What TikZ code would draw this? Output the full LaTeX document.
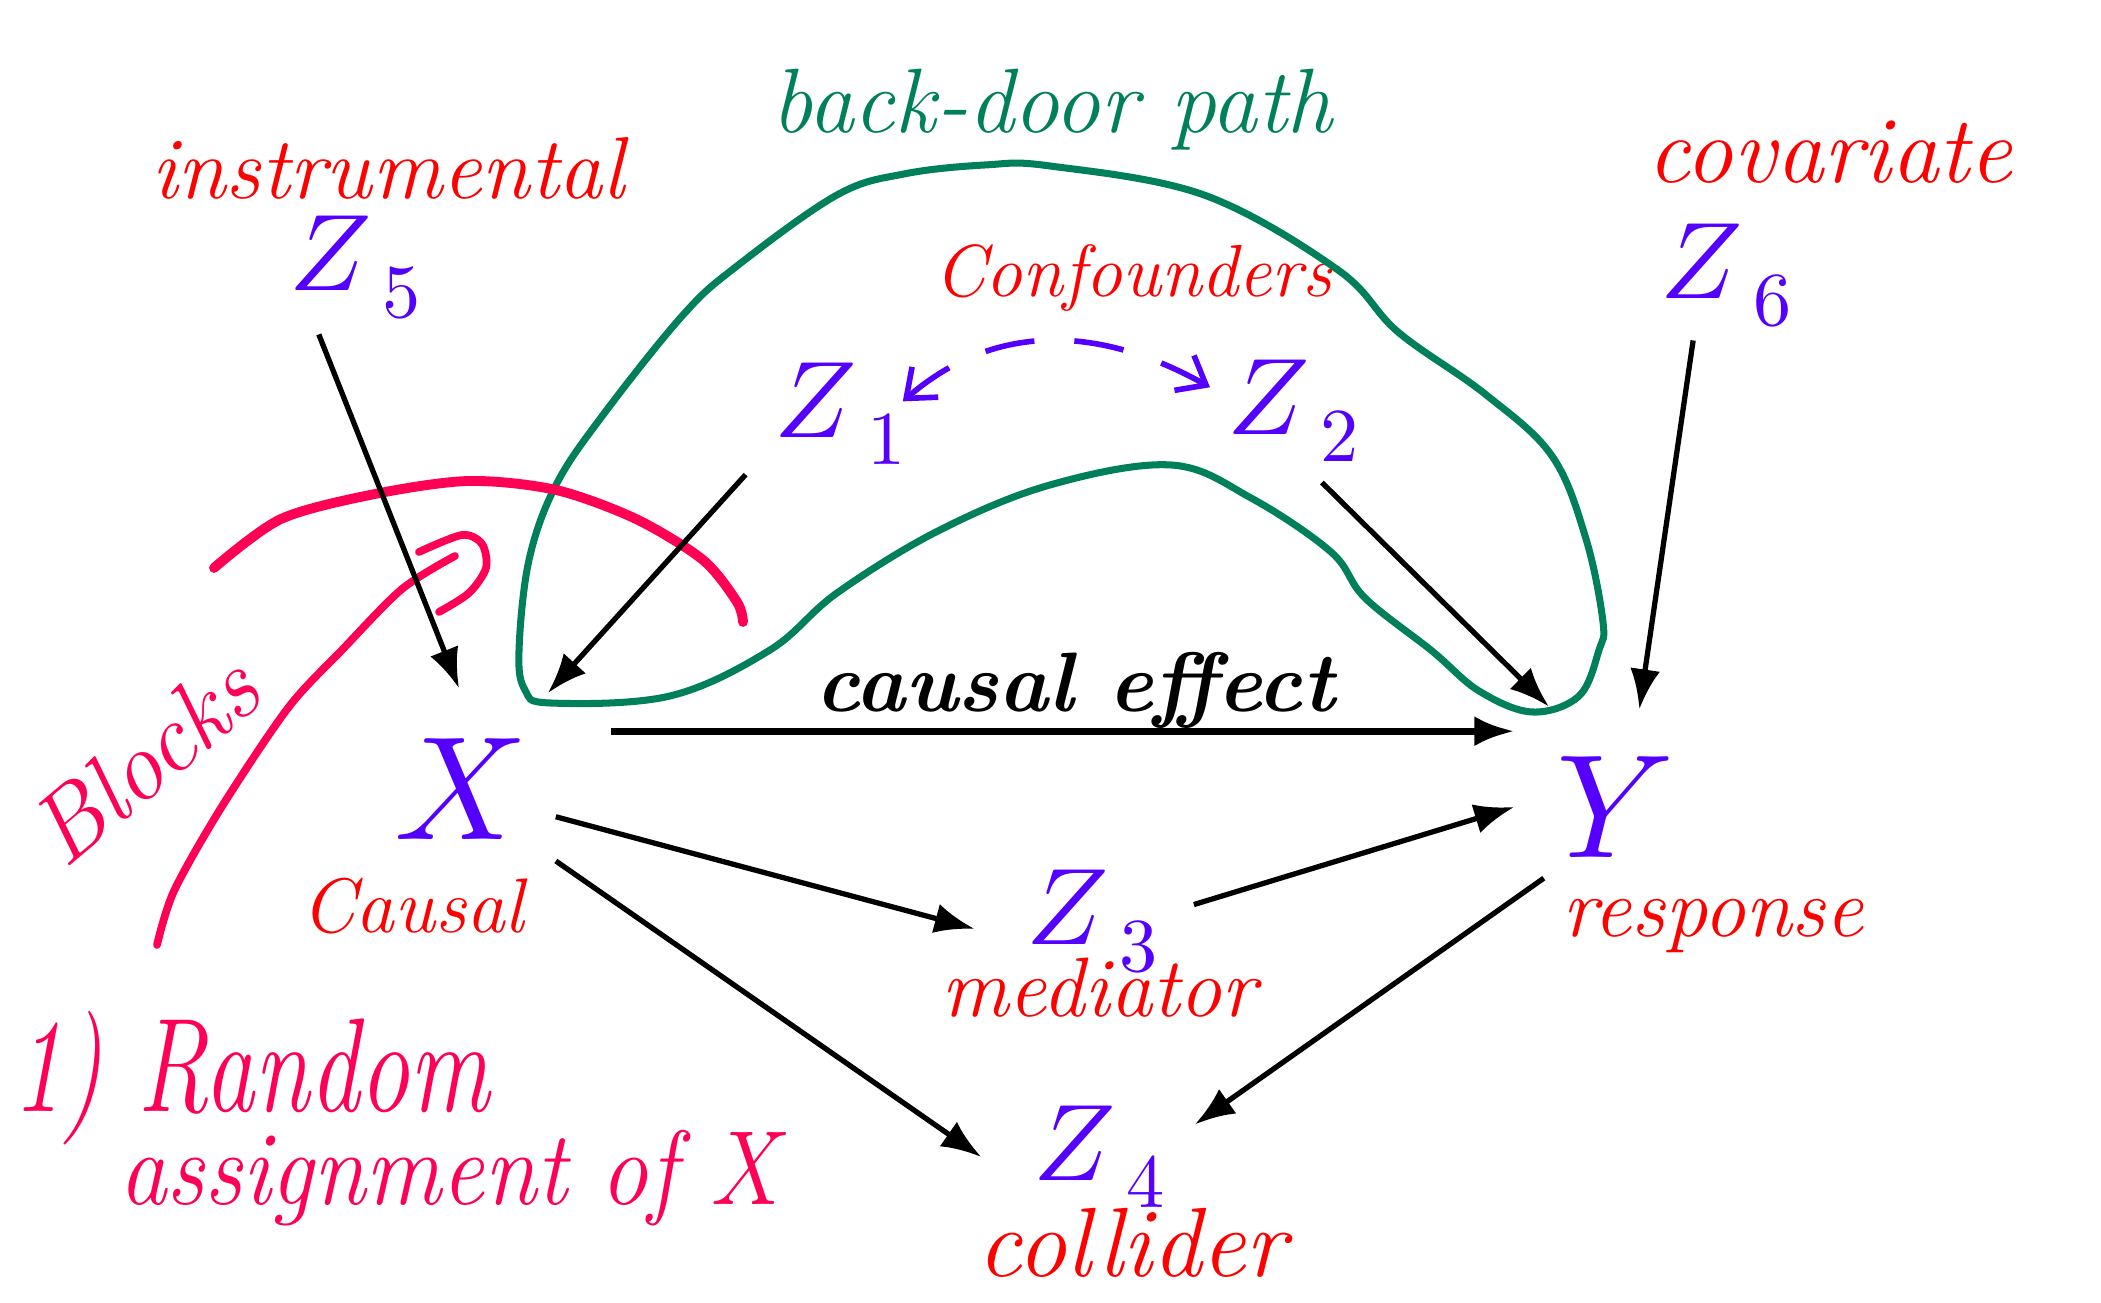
\documentclass[tikz,border=0pt]{standalone}
\usepackage{mathtools}
\usepackage{fontspec}
\usepackage{unicode-math}
\usetikzlibrary{arrows.meta}
\definecolor{varviolet}{RGB}{85,0,255}
\definecolor{lblred}{RGB}{255,0,0}
\definecolor{notepink}{RGB}{255,0,85}
\definecolor{pathgreen}{RGB}{0,128,90}
\newcommand{\fsz}[1]{\fontsize{#1}{#1}\selectfont}
\newcommand{\zvar}[1]{$Z_{\smash{\mathrlap{\hspace{1.8mm}#1}}}$}

\begin{document}
\begin{tikzpicture}[
var/.style={circle,inner sep=0pt,minimum size=18mm,text=varviolet,font=\fsz{31}},
bigvar/.style={var,minimum size=20mm,font=\fsz{42}},
lbl/.style={anchor=base,text=lblred,font=\fsz{24}\itshape},
note/.style={text=notepink,font=\fsz{30}\itshape},
arr/.style={-{Latex[length=4mm,width=3mm]},line width=1.5pt},
dbl/.style={{Straight Barb[length=2.5mm,width=4mm]}-{Straight Barb[length=2.5mm,width=4mm]},line width=1.6pt,dash pattern=on 5mm off 4mm,varviolet},
loopline/.style={pathgreen,line width=2pt},
blockmark/.style={notepink,line width=2.8pt,line cap=round}]
\useasboundingbox (0,0) rectangle (21.01,13.03);

% variables
\node[var] (Z5) at (3.28,10.36) {\zvar{5}};
\node[var] (Z6) at (16.99,10.28) {\zvar{6}};
\node[var] (Z1) at (8.13,8.89) {\zvar{1}};
\node[var] (Z2) at (12.66,8.92) {\zvar{2}};
\node[bigvar] (X) at (4.59,5.14) {$X$};
\node[bigvar] (Y) at (16.15,4.96) {$Y$};
\node[var] (Z3) at (10.65,3.82) {\zvar{3}};
\node[var] (Z4) at (10.72,1.46) {\zvar{4}};

% labels
\node[lbl,text=pathgreen,font=\fsz{26}\itshape] (bdp) at (10.52,11.70) {back-door path};
\node[lbl,font=\fsz{25}\itshape] (instr) at (3.88,11.04) {instrumental};
\node[lbl,font=\fsz{27}\itshape] (cov) at (18.30,11.20) {covariate};
\node[lbl,font=\fsz{21}\itshape] (conf) at (11.33,10.06) {Confounders};
\node[lbl,font=\fsz{22}\itshape] (caus) at (4.13,3.70) {Causal};
\node[lbl] (resp) at (17.13,3.66) {response};
\node[lbl] (med) at (10.99,2.86) {mediator};
\node[lbl,font=\fsz{28}\itshape] (coll) at (11.32,0.26) {collider};
\node[lbl,text=black,font=\fsz{24}\bfseries\itshape] (ce) at (10.75,5.91) {causal effect};
\node[note,rotate=40,font=\fsz{28}\itshape] (blocks) at (1.44,5.43) {Blocks};
\node[note,anchor=base west,font=\fsz{38}\itshape] (rand) at (0.0,1.91) {\scalebox{0.75}[1]{1) Random}};
\node[note,anchor=base,font=\fsz{30}\itshape] (assign) at (4.49,0.98) {\scalebox{0.9}[1]{assignment of X}};

% back-door loop
\draw[loopline] plot[smooth cycle,tension=0.6] coordinates {
(5.50,6.00) (6.70,6.07) (7.70,6.53) (8.37,7.10) (9.38,7.72) (10.50,8.18)
(11.71,8.38) (12.51,8.05) (13.31,7.51) (13.65,7.05) (14.32,6.52) (14.79,6.12)
(15.32,5.91) (15.79,6.07) (15.99,6.53) (16.03,6.81) (15.86,7.64) (15.52,8.47)
(14.85,9.09) (13.98,9.71) (13.38,10.33) (12.04,11.08) (10.50,11.37) (9.85,11.38)
(9.04,11.29) (8.37,11.08) (7.37,10.37) (6.83,9.88) (6.03,8.88) (5.56,8.18)
(5.29,7.43) (5.19,6.52) (5.25,6.13)};

% blocking marks
\draw[blockmark] plot[smooth] coordinates {(2.14,7.35) (2.81,7.84) (3.75,8.09) (4.69,8.22)
(5.56,8.13) (6.36,7.84) (7.03,7.43) (7.37,7.01) (7.43,6.81)};
\draw[blockmark,line width=2.2pt] plot[smooth] coordinates {(1.57,3.58) (1.74,4.12) (2.21,4.95)
(2.88,5.95) (3.42,6.53) (4.02,7.14) (4.55,7.47)};
\draw[blockmark,line width=2.2pt] plot[smooth] coordinates {(4.19,7.51) (4.62,7.68) (4.82,7.59)
(4.86,7.35) (4.69,7.10) (4.39,6.91)};

% arrows
\draw[arr,shorten <=-2.5mm] (Z5.south) -- (X.north);
\draw[arr,shorten >=3mm] (Z1.222) -- (X.47);
\draw[arr,shorten >=2mm] (Z2.308) -- (Y.121);
\draw[arr,shorten <=-2.5mm] (Z6.264) -- (Y.76);
\draw[arr,line width=2pt,shorten <=7mm] (X.35) -- (X.35 -| Y.west);
\draw[arr] (X.344) -- (Z3.185);
\draw[arr,shorten <=4mm] (Z3.3) -- (Y.west);
\draw[arr,shorten <=2mm] (X.323) -- (Z4.west);
\draw[arr,shorten >=4mm] (Y.225) -- (Z4.6);
\draw[dbl,shorten >=-3mm] (Z1.8) to[bend left=35] (Z2.155);
\end{tikzpicture}
\end{document}
